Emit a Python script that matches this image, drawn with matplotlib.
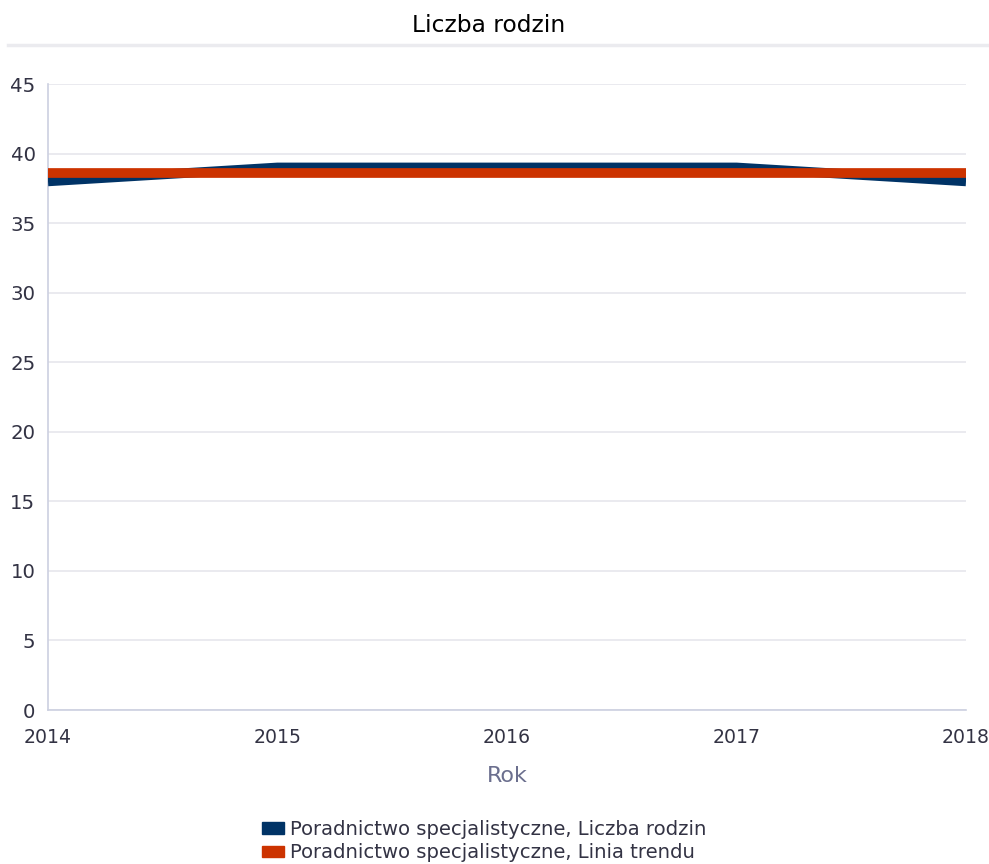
import matplotlib
matplotlib.use("Agg")
import matplotlib.pyplot as plt
from matplotlib.lines import Line2D
from matplotlib.patches import Rectangle

years = [2014, 2015, 2016, 2017, 2018]
liczba_rodzin = [38, 39, 39, 39, 38]
linia_trendu = [38.6, 38.6, 38.6, 38.6, 38.6]
y_ticks = [0, 5, 10, 15, 20, 25, 30, 35, 40, 45]
series_names = ["Poradnictwo specjalistyczne, Liczba rodzin",
                "Poradnictwo specjalistyczne, Linia trendu"]
colors = ["#003366", "#cc3300"]

plt.rcParams['font.family'] = ['DejaVu Sans']

fig = plt.figure(figsize=(9.89, 8.64), dpi=100)
ax = fig.add_axes([48/989, 1-710/864, (966-48)/989, (710-84)/864])

ax.plot(years, liczba_rodzin, color=colors[0], lw=7, solid_capstyle='butt',
        solid_joinstyle='miter', zorder=3)
ax.plot(years, linia_trendu, color=colors[1], lw=7, solid_capstyle='butt', zorder=4)

ax.set_xlim(2014, 2018)
ax.set_ylim(0, 45)
ax.set_xticks(years)
ax.set_xticklabels([str(y) for y in years])
ax.set_yticks(y_ticks)
ax.set_yticklabels([str(v) for v in y_ticks])
ax.tick_params(length=0, colors='#333344')
ax.tick_params(axis='y', pad=9, labelsize=14.2)
ax.tick_params(axis='x', pad=13, labelsize=13.6)
ax.grid(axis='y', color='#e6e6ec', lw=1.2, zorder=0)
ax.set_axisbelow(True)
for s in ['top', 'right']:
    ax.spines[s].set_visible(False)
ax.spines['left'].set_color('#ccd0e0')
ax.spines['bottom'].set_color('#ccd0e0')
ax.spines['left'].set_linewidth(1.2)
ax.spines['bottom'].set_linewidth(1.2)

ax.set_xlabel("Rok", fontsize=16, color='#6b6f8e', labelpad=14)

fig.text(489/989, 1-25/864, "Liczba rodzin", ha='center', va='center',
         fontsize=16.8, color='#000000')
fig.add_artist(Line2D([8/989, 1.0], [1-45/864, 1-45/864], color='#ebebef',
                      lw=2.5, transform=fig.transFigure))

handles = [Rectangle((0, 0), 1, 1, color=c) for c in colors]
leg = fig.legend(handles, series_names, loc='center', bbox_to_anchor=(484/989, 1-841/864),
                 frameon=False, fontsize=14.1, handlelength=1.1, handleheight=0.55,
                 handletextpad=0.3, labelspacing=0.25, borderpad=0)
for t in leg.get_texts():
    t.set_color('#333344')

fig.savefig("out.png", dpi=100)
